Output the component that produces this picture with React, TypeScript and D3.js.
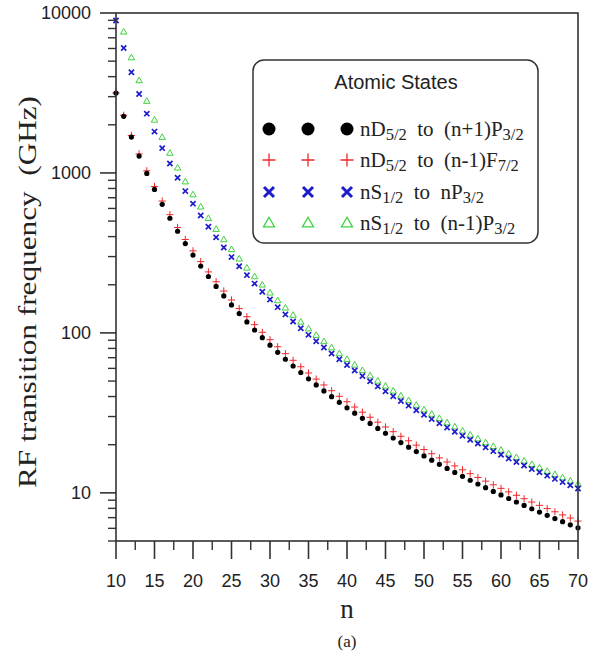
import React from "react";
import * as d3 from "d3";

const nValues: number[] = d3.range(10, 71);

const nD52_np1P32: number[] = [
  3156, 2261, 1675, 1275, 993, 788.4, 636.3, 521.0, 431.9, 362.0,
  306.5, 261.7, 225.3, 195.3, 170.4, 149.5, 132.0, 117.1, 104.3, 93.3,
  83.85, 75.61, 68.42, 62.11, 56.55, 51.64, 47.28, 43.39, 39.92, 36.81,
  34.02, 31.50, 29.23, 27.16, 25.29, 23.59, 22.03, 20.61, 19.31, 18.12,
  17.02, 16.01, 15.08, 14.21, 13.42, 12.68, 11.99, 11.36, 10.77, 10.21,
  9.699, 9.218, 8.769, 8.348, 7.953, 7.584, 7.236, 6.910, 6.603, 6.314,
  6.041,
];

const nD52_nm1F72: number[] = [
  3166, 2294, 1714.8, 1315.3, 1030.9, 822.9, 667.3, 548.6, 456.4, 383.8,
  325.8, 278.9, 240.6, 209.0, 182.75, 160.7, 142.0, 126.2, 112.6, 100.9,
  90.72, 81.90, 74.18, 67.40, 61.43, 56.14, 51.44, 47.25, 43.50, 40.14,
  37.12, 34.39, 31.93, 29.69, 27.66, 25.81, 24.12, 22.57, 21.16, 19.86,
  18.66, 17.56, 16.54, 15.60, 14.74, 13.93, 13.18, 12.48, 11.84, 11.23,
  10.67, 10.14, 9.652, 9.191, 8.759, 8.354, 7.973, 7.615, 7.278, 6.961,
  6.662,
];

const nS12_nP32: number[] = [
  8969, 6041, 4261, 3117, 2348, 1813, 1429, 1145.6, 932.9, 769.8,
  642.6, 541.9, 461.2, 395.8, 342.2, 297.8, 260.8, 229.7, 203.3, 180.9,
  161.6, 144.9, 130.5, 117.9, 106.9, 97.25, 88.70, 81.13, 74.39, 68.38,
  63.00, 58.17, 53.82, 49.90, 46.34, 43.12, 40.19, 37.52, 35.08, 32.84,
  30.80, 28.92, 27.19, 25.59, 24.12, 22.76, 21.50, 20.33, 19.24, 18.23,
  17.29, 16.41, 15.59, 14.83, 14.11, 13.44, 12.81, 12.22, 11.67, 11.15,
  10.65,
];

// n = 10 is off the top of the chart (null)
const nS12_nm1P32: (number | null)[] = [
  null, 7628, 5265, 3786, 2813, 2146, 1675, 1332, 1077, 882.5,
  732.5, 614.7, 520.9, 445.2, 383.5, 332.7, 290.5, 255.1, 225.3, 199.9,
  178.2, 159.5, 143.4, 129.3, 117.1, 106.3, 96.83, 88.44, 81.00, 74.36,
  68.43, 63.12, 58.34, 54.03, 50.14, 46.61, 43.41, 40.49, 37.83, 35.39,
  33.16, 31.12, 29.24, 27.50, 25.91, 24.43, 23.06, 21.80, 20.62, 19.53,
  18.51, 17.56, 16.68, 15.85, 15.08, 14.36, 13.68, 13.05, 12.45, 11.89,
  11.36,
];

const xMajorTicks: number[] = [10, 15, 20, 25, 30, 35, 40, 45, 50, 55, 60, 65, 70];
const yMajorTicks: number[] = [10, 100, 1000, 10000];
const yTickLabels: string[] = ["10", "100", "1000", "10000"];

const W = 601;
const H = 656;
const L = 116, R = 578, T = 13, B = 541;

const x = d3.scaleLinear().domain([10, 70]).range([L, R]);
const y = d3.scaleLog().domain([5, 10000]).range([B, T]);

const serif = "'Liberation Serif', 'Times New Roman', serif";
const sans = "'Liberation Sans', Arial, sans-serif";
const axisColor = "#333";

const RED = "#f0282a";
const BLUE = "#1c1ccc";
const GREEN = "#3fd23f";

function Dot({ cx, cy, r }: { cx: number; cy: number; r: number }) {
  return <circle cx={cx} cy={cy} r={r} fill="#000" />;
}
function Plus({ cx, cy, h, w }: { cx: number; cy: number; h: number; w: number }) {
  return (
    <path d={`M${cx - h},${cy}H${cx + h}M${cx},${cy - h}V${cy + h}`} stroke={RED} strokeWidth={w} fill="none" />
  );
}
function Cross({ cx, cy, h, w }: { cx: number; cy: number; h: number; w: number }) {
  return (
    <path d={`M${cx - h},${cy - h}L${cx + h},${cy + h}M${cx - h},${cy + h}L${cx + h},${cy - h}`} stroke={BLUE} strokeWidth={w} fill="none" />
  );
}
function Tri({ cx, cy, s, w }: { cx: number; cy: number; s: number; w: number }) {
  const hgt = s * 0.866;
  return (
    <path d={`M${cx},${cy - hgt * 0.6}L${cx + s / 2},${cy + hgt * 0.4}L${cx - s / 2},${cy + hgt * 0.4}Z`} stroke={GREEN} strokeWidth={w} fill="none" />
  );
}

export default function App() {
  const yMinor: number[] = [];
  [1, 10, 100, 1000].forEach((dec) => {
    for (let k = 2; k <= 9; k++) {
      const v = dec * k;
      if (v >= 5 && v < 10000) yMinor.push(v);
    }
  });
  const xMinor: number[] = d3.range(12.5, 70, 5);

  const legendRows = [
    { key: "a", y: 129 },
    { key: "b", y: 160 },
    { key: "c", y: 192 },
    { key: "d", y: 223 },
  ];
  const legendX = [269, 308, 347];

  const sub = (t: string) => (
    <tspan fontSize={16.5} dy={4}>{t}</tspan>
  );
  const up = (t: string) => <tspan dy={-4}>{t}</tspan>;

  return (
    <svg width={W} height={H} style={{ display: "block", position: "absolute", left: 0, top: 0, background: "#fff" }}>
      <rect x={0} y={0} width={W} height={H} fill="#fff" />
      {/* data */}
      <g>
        {nValues.map((n, i) => (
          <Plus key={"r" + n} cx={x(n)} cy={y(nD52_nm1F72[i])} h={3.6} w={1} />
        ))}
        {nValues.map((n, i) => (
          <Dot key={"k" + n} cx={x(n)} cy={y(nD52_np1P32[i])} r={2.6} />
        ))}
        {nValues.map((n, i) => {
          const v = nS12_nm1P32[i];
          return v == null ? null : <Tri key={"g" + n} cx={x(n)} cy={y(v)} s={6.5} w={1} />;
        })}
        {nValues.map((n, i) => (
          <Cross key={"b" + n} cx={x(n)} cy={y(nS12_nP32[i])} h={2.6} w={1.7} />
        ))}
      </g>

      {/* frame */}
      <rect x={L} y={T} width={R - L} height={B - T} fill="none" stroke={axisColor} strokeWidth={1.6} />

      {/* y ticks */}
      {yMajorTicks.map((v, i) => (
        <g key={"ym" + v}>
          <line x1={L - 16} x2={L} y1={y(v)} y2={y(v)} stroke={axisColor} strokeWidth={1.6} />
          <text x={L - 25} y={y(v)} dy="0.36em" textAnchor="end" fontFamily={sans} fontSize={18} fill="#222">
            {yTickLabels[i]}
          </text>
        </g>
      ))}
      {yMinor.map((v) => (
        <line key={"yn" + v} x1={L - 8} x2={L} y1={y(v)} y2={y(v)} stroke={axisColor} strokeWidth={1.4} />
      ))}

      {/* x ticks */}
      {xMajorTicks.map((v) => (
        <g key={"xm" + v}>
          <line x1={x(v)} x2={x(v)} y1={B} y2={B + 18} stroke={axisColor} strokeWidth={1.6} />
          <text x={x(v)} y={587} textAnchor="middle" fontFamily={sans} fontSize={18} fill="#222">
            {v}
          </text>
        </g>
      ))}
      {xMinor.map((v) => (
        <line key={"xn" + v} x1={x(v)} x2={x(v)} y1={B} y2={B + 9} stroke={axisColor} strokeWidth={1.4} />
      ))}

      {/* axis titles */}
      <text x={347} y={618} textAnchor="middle" fontFamily={serif} fontSize={27} fill="#222">n</text>
      <text x={347} y={647} textAnchor="middle" fontFamily={serif} fontSize={17} fill="#222">(a)</text>
      <text
        transform={`translate(36,292) rotate(-90) scale(1.25,1)`}
        textAnchor="middle"
        fontFamily={serif}
        fontSize={25}
        fill="#222"
        xmlSpace="preserve"
      >
        RF transition frequency  (GHz)
      </text>

      {/* legend */}
      <rect x={253} y={60} width={285} height={183} rx={11} ry={11} fill="#fff" stroke={axisColor} strokeWidth={1.5} />
      <text x={396} y={89} textAnchor="middle" fontFamily={sans} fontSize={20} fill="#222">Atomic States</text>
      {legendRows.map((row) => (
        <g key={row.key}>
          {legendX.map((lx, j) => {
            if (row.key === "a") return <Dot key={j} cx={lx} cy={row.y} r={6.5} />;
            if (row.key === "b") return <Plus key={j} cx={lx} cy={row.y} h={6.5} w={1.3} />;
            if (row.key === "c") return <Cross key={j} cx={lx} cy={row.y} h={5} w={3} />;
            return <Tri key={j} cx={lx} cy={row.y} s={11} w={1.3} />;
          })}
        </g>
      ))}
      <g fontFamily={serif} fontSize={21} fill="#222">
        <text x={360} y={136} xmlSpace="preserve">
          nD{sub("5/2")}{up("  to  (n+1)P")}{sub("3/2")}
        </text>
        <text x={360} y={167} xmlSpace="preserve">
          nD{sub("5/2")}{up("  to  (n-1)F")}{sub("7/2")}
        </text>
        <text x={360} y={199} xmlSpace="preserve">
          nS{sub("1/2")}{up("  to  nP")}{sub("3/2")}
        </text>
        <text x={360} y={230} xmlSpace="preserve">
          nS{sub("1/2")}{up("  to  (n-1)P")}{sub("3/2")}
        </text>
      </g>
    </svg>
  );
}
